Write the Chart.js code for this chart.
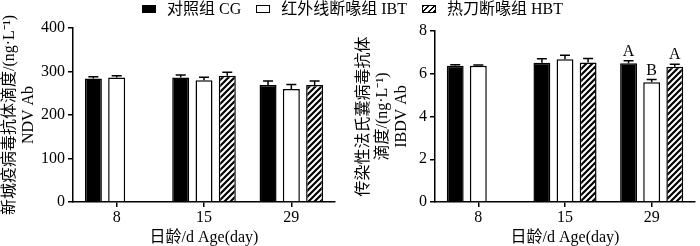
<!DOCTYPE html>
<html>
<head>
<meta charset="utf-8">
<script src="https://cdn.jsdelivr.net/npm/chart.js@4.4.0/dist/chart.umd.min.js"></script>
<style>
  body { margin: 0; background: #fff; }
  #wrap { position: relative; width: 700px; height: 246px; font-family: 'Liberation Serif', 'Noto Sans CJK SC', serif; }
  .panel { position: absolute; top: 0; width: 350px; height: 246px; }
  #legend { position: absolute; top: 0; left: 142px; display: flex; font-size: 16px; line-height: 18px; color: #000; white-space: nowrap; }
  .item { display: flex; align-items: center; margin-right: 15px; }
  .sw { width: 12px; height: 6px; border: 1.5px solid #000; margin-right: 11px; }
</style>
</head>
<body>
<div id="wrap">
  <div class="panel" style="left:0"><canvas id="ndv"></canvas></div>
  <div class="panel" style="left:350px"><canvas id="ibdv"></canvas></div>
  <div id="legend"></div>
</div>
<script>
const ages = ['8', '15', '29'];
const groups = ['对照组 CG', '红外线断喙组 IBT', '热刀断喙组 HBT'];

// NDV Ab
const ndvCG = [284, 286, 269];
const ndvIBT = [286, 280, 260];
const ndvHBT = [null, 290, 269];
const ndvErrCG = [4, 6, 9];
const ndvErrIBT = [4, 7, 10];
const ndvErrHBT = [null, 8, 9];

// IBDV Ab
const ibdvCG = [6.38, 6.52, 6.49];
const ibdvIBT = [6.38, 6.68, 5.6];
const ibdvHBT = [null, 6.53, 6.33];
const ibdvErrCG = [0.04, 0.18, 0.12];
const ibdvErrIBT = [0.03, 0.18, 0.13];
const ibdvErrHBT = [null, 0.18, 0.12];
const ibdvLetCG = ['', '', 'A'];
const ibdvLetIBT = ['', '', 'B'];
const ibdvLetHBT = ['', '', 'A'];

const FONT = "'Liberation Serif', 'Noto Sans CJK SC', serif";

function hatch() {
    const c = document.createElement('canvas');
    c.width = 6; c.height = 6;
    const g = c.getContext('2d');
    g.fillStyle = '#fff';
    g.fillRect(0, 0, 6, 6);
    g.strokeStyle = '#000';
    g.lineWidth = 2.2;
    g.beginPath();
    g.moveTo(-1, 7); g.lineTo(7, -1);
    g.moveTo(-1, 1); g.lineTo(1, -1);
    g.moveTo(5, 7); g.lineTo(7, 5);
    g.stroke();
    return g.createPattern(c, 'repeat');
}

const errorBars = {
    id: 'errorBars',
    afterDatasetsDraw(chart) {
        const ctx = chart.ctx;
        const y = chart.scales.y;
        ctx.save();
        ctx.strokeStyle = '#000';
        ctx.fillStyle = '#000';
        ctx.lineWidth = 1.5;
        chart.data.datasets.forEach((ds, i) => {
            const meta = chart.getDatasetMeta(i);
            meta.data.forEach((bar, j) => {
                const v = ds.data[j];
                if (v == null) return;
                const top = y.getPixelForValue(v + ds.err[j]);
                ctx.beginPath();
                ctx.moveTo(bar.x, bar.y);
                ctx.lineTo(bar.x, top);
                ctx.moveTo(bar.x - 5, top);
                ctx.lineTo(bar.x + 5, top);
                ctx.stroke();
                if (ds.letters && ds.letters[j]) {
                    ctx.font = '16px ' + FONT;
                    ctx.textAlign = 'center';
                    ctx.textBaseline = 'bottom';
                    ctx.fillText(ds.letters[j], bar.x, top - 1);
                }
            });
        });
        ctx.restore();
    }
};

function makeChart(id, sets, yMax, yStep, yTitle, axisX, pad) {
    const pat = hatch();
    const fills = ['#000', '#fff', pat];
    return new Chart(document.getElementById(id), {
        type: 'bar',
        data: {
            labels: ages,
            datasets: sets.map((s, i) => ({
                label: groups[i],
                data: s.data,
                err: s.err,
                letters: s.letters,
                backgroundColor: fills[i],
                borderColor: '#000',
                borderWidth: 1.5
            }))
        },
        options: {
            responsive: false,
            animation: false,
            devicePixelRatio: 1,
            categoryPercentage: 0.8,
            barPercentage: 0.73,
            layout: { padding: pad },
            plugins: { legend: false, tooltip: { enabled: false } },
            scales: {
                x: {
                    offset: true,
                    grid: { display: true, drawOnChartArea: false, offset: false, tickLength: 5, color: '#000', lineWidth: 1.5 },
                    border: { color: '#000', width: 1.5 },
                    ticks: { color: '#000', font: { family: FONT, size: 16 }, padding: 1 },
                    title: { display: true, text: '日龄/d Age(day)', color: '#000', font: { family: FONT, size: 16, lineHeight: 1 }, padding: 0 },
                    afterFit(s) { s.height = 44; }
                },
                y: {
                    min: 0,
                    max: yMax,
                    grid: { display: true, drawOnChartArea: false, tickLength: 5, color: '#000', lineWidth: 1.5 },
                    border: { color: '#000', width: 1.5 },
                    ticks: { stepSize: yStep, color: '#000', font: { family: FONT, size: 16 }, padding: 3 },
                    title: { display: true, text: yTitle, color: '#000', font: { family: FONT, size: 16, lineHeight: 1.2 }, padding: 0 },
                    afterFit(s) { s.width = axisX - pad.left; }
                }
            }
        },
        plugins: [errorBars]
    });
}

document.getElementById('ndv').width = 350;
document.getElementById('ndv').height = 246;
document.getElementById('ibdv').width = 350;
document.getElementById('ibdv').height = 246;

makeChart('ndv', [
    { data: ndvCG, err: ndvErrCG },
    { data: ndvIBT, err: ndvErrIBT },
    { data: ndvHBT, err: ndvErrHBT }
], 400, 100, ['新城疫病毒抗体滴度/(ng·L⁻¹)', 'NDV Ab'], 73,
   { left: 0, right: 15, top: 28, bottom: 0 });

makeChart('ibdv', [
    { data: ibdvCG, err: ibdvErrCG, letters: ibdvLetCG },
    { data: ibdvIBT, err: ibdvErrIBT, letters: ibdvLetIBT },
    { data: ibdvHBT, err: ibdvErrHBT, letters: ibdvLetHBT }
], 8, 2, ['传染性法氏囊病毒抗体', '滴度/(ng·L⁻¹)', 'IBDV Ab'], 85,
   { left: 4, right: 5, top: 31, bottom: 0 });

// legend
const legend = document.getElementById('legend');
const swatch = ['background:#000', 'background:#fff',
    'background:repeating-linear-gradient(-45deg,#000 0 1.6px,#fff 1.6px 4px)'];
groups.forEach((g, i) => {
    const it = document.createElement('div');
    it.className = 'item';
    const sw = document.createElement('span');
    sw.className = 'sw';
    sw.style.cssText = swatch[i];
    it.appendChild(sw);
    it.appendChild(document.createTextNode(g));
    legend.appendChild(it);
});
</script>
</body>
</html>
